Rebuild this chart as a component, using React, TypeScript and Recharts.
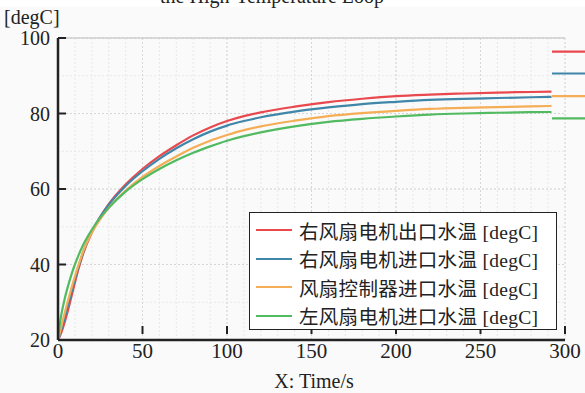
import React from "react";
import { LineChart, Line, XAxis, YAxis, CartesianGrid, ReferenceLine, Legend } from "recharts";

const times = [0, 1, 2, 4, 6, 8, 10, 12, 15, 20, 25, 30, 40, 50, 60, 70, 80, 90, 100, 110, 120, 140, 160, 180, 200, 220, 240, 260, 280, 292];
const rightOut = [20, 20.9, 22, 24.8, 28, 31.6, 35.2, 38.6, 43, 48.5, 52.6, 56, 61.2, 65.3, 68.7, 71.6, 74.2, 76.3, 78.0, 79.3, 80.3, 81.8, 83.0, 83.9, 84.6, 85.0, 85.3, 85.55, 85.7, 85.8];
const rightIn = [20, 21.3, 22.8, 26, 29.4, 32.8, 36.1, 39.2, 43.4, 48.6, 52.6, 55.8, 60.8, 64.7, 68, 70.8, 73.2, 75.2, 76.8, 78.0, 79.0, 80.5, 81.6, 82.5, 83.1, 83.6, 83.9, 84.1, 84.3, 84.4];
const ctrlIn = [20, 21.8, 23.6, 27.2, 30.6, 33.8, 36.9, 39.7, 43.6, 48.4, 52, 55, 59.6, 63.2, 66.1, 68.6, 70.9, 72.8, 74.3, 75.6, 76.6, 78.1, 79.3, 80.1, 80.7, 81.2, 81.5, 81.7, 81.9, 82.0];
const leftIn = [20, 24, 26.8, 31, 34.4, 37.4, 40, 42.3, 45.3, 49.2, 52.4, 55, 59.3, 62.6, 65.3, 67.6, 69.6, 71.3, 72.8, 74.0, 75.0, 76.6, 77.8, 78.6, 79.2, 79.7, 80.0, 80.2, 80.35, 80.4];

const seriesNames = [
  "右风扇电机出口水温 [degC]",
  "右风扇电机进口水温 [degC]",
  "风扇控制器进口水温 [degC]",
  "左风扇电机进口水温 [degC]",
];
const seriesKeys = ["rightOut", "rightIn", "ctrlIn", "leftIn"];
const seriesColors = ["#e9494e", "#3f86a8", "#f5ad56", "#52ba60"];

const markerValues = [96.4, 90.6, 84.6, 78.7];

const xTicks = [0, 50, 100, 150, 200, 250, 300];
const yTicks = [20, 40, 60, 80, 100];
const xMinor = [0, 10, 20, 30, 40, 50, 60, 70, 80, 90, 100, 110, 120, 130, 140, 150, 160, 170, 180, 190, 200, 210, 220, 230, 240, 250, 260, 270, 280, 290, 300];
const yMinor = [20, 30, 40, 50, 60, 70, 80, 90, 100];

const titleText = "the High-Temperature Loop";
const yUnit = "[degC]";
const xLabel = "X: Time/s";

const data = times.map((t, i) => ({
  t,
  rightOut: rightOut[i],
  rightIn: rightIn[i],
  ctrlIn: ctrlIn[i],
  leftIn: leftIn[i],
}));

const markerData = [0, 1].map((x) => {
  const row: any = { x };
  seriesKeys.forEach((k, i) => (row[k] = markerValues[i]));
  return row;
});

const FONT = "'Liberation Serif', 'Noto Sans CJK SC', serif";

const YTick = (props: any) => {
  const { x, y, payload } = props;
  return (
    <g>
      <line x1={x + 8} x2={x + 16} y1={y} y2={y} stroke="#222" strokeWidth={2} />
      <text x={x} y={y} textAnchor="end" dominantBaseline="central" fontSize={20} fill="#222" fontFamily={FONT}>
        {payload.value}
      </text>
    </g>
  );
};

const XTick = (props: any) => {
  const { x, y, payload } = props;
  return (
    <g>
      <line x1={x} x2={x} y1={y - 6} y2={y - 14} stroke="#222" strokeWidth={2} />
      <text x={x} y={y + 18} textAnchor="middle" fontSize={21} fill="#222" fontFamily={FONT}>
        {payload.value}
      </text>
    </g>
  );
};

const LegendBox = () => (
  <div
    style={{
      border: "1.5px solid #222",
      background: "#fff",
      width: 308,
      height: 118,
      boxSizing: "border-box",
      padding: "3px 0 0 6px",
      fontFamily: FONT,
      textAlign: "left",
    }}
  >
    {seriesNames.map((n, i) => (
      <div key={n} style={{ display: "flex", alignItems: "center", height: 28.5 }}>
        <div style={{ width: 36, height: 2, background: seriesColors[i], marginRight: 7 }} />
        <span style={{ fontSize: 19.5, color: "#222", whiteSpace: "nowrap", letterSpacing: 0.3 }}>{n}</span>
      </div>
    ))}
  </div>
);

export default function App() {
  return (
    <div
      style={{
        position: "fixed",
        left: 0,
        top: 0,
        width: 585,
        height: 393,
        background: "#fafafa",
        overflow: "hidden",
        fontFamily: FONT,
      }}
    >
      <div style={{ position: "absolute", left: 0, top: 0, width: 585, height: 7, background: "#fff" }} />
      <div
        style={{
          position: "absolute",
          left: 160,
          top: -14,
          fontSize: 20,
          color: "#222",
          whiteSpace: "nowrap",
          lineHeight: "20px",
        }}
      >
        {titleText}
      </div>
      <div style={{ position: "absolute", left: 4, top: 6, fontSize: 20, color: "#222", lineHeight: "22px" }}>
        {yUnit}
      </div>
      <div style={{ position: "absolute", left: 0, top: 0 }}>
        <LineChart width={585} height={393} data={data} margin={{ top: 38, right: 20, bottom: 18, left: 8 }}>
          <CartesianGrid
            verticalValues={xMinor}
            horizontalValues={yMinor}
            stroke="#e8e8e8"
            strokeDasharray="2 2"
          />
          <CartesianGrid
            verticalValues={xTicks}
            horizontalValues={yTicks}
            stroke="#d6d6d6"
            strokeDasharray="2 2"
          />
          <ReferenceLine y={100} stroke="#cfcfcf" strokeWidth={1.5} />
          <XAxis
            dataKey="t"
            type="number"
            domain={[0, 300]}
            ticks={xTicks}
            tickSize={0}
            tickMargin={0}
            tickLine={false}
            axisLine={{ stroke: "#222", strokeWidth: 2.5 }}
            tick={<XTick />}
            height={35}
            interval={0}
          />
          <YAxis
            type="number"
            domain={[20, 100]}
            ticks={yTicks}
            tickSize={0}
            tickMargin={8}
            tickLine={false}
            axisLine={{ stroke: "#222", strokeWidth: 2.5 }}
            tick={<YTick />}
            width={50}
            interval={0}
          />
          {seriesKeys.map((k, i) => (
            <Line
              key={k}
              type="monotone"
              dataKey={k}
              name={seriesNames[i]}
              stroke={seriesColors[i]}
              strokeWidth={2.2}
              dot={false}
              isAnimationActive={false}
            />
          ))}
          <Legend
            layout="horizontal"
            verticalAlign="middle"
            align="center"
            content={<LegendBox />}
            wrapperStyle={{ left: 249, top: 212, width: 308, height: 118 }}
          />
        </LineChart>
      </div>
      <div style={{ position: "absolute", left: 552, top: 0 }}>
        <LineChart width={40} height={393} data={markerData} margin={{ top: 38, right: 0, bottom: 53, left: 0 }}>
          <XAxis dataKey="x" type="number" domain={[0, 1]} hide />
          <YAxis type="number" domain={[20, 100]} hide />
          {seriesKeys.map((k, i) => (
            <Line
              key={k}
              type="linear"
              dataKey={k}
              stroke={seriesColors[i]}
              strokeWidth={2.2}
              dot={false}
              isAnimationActive={false}
            />
          ))}
        </LineChart>
      </div>
      <div
        style={{
          position: "absolute",
          left: 0,
          width: 628,
          top: 370,
          textAlign: "center",
          fontSize: 20,
          color: "#222",
          lineHeight: "22px",
        }}
      >
        {xLabel}
      </div>
    </div>
  );
}
